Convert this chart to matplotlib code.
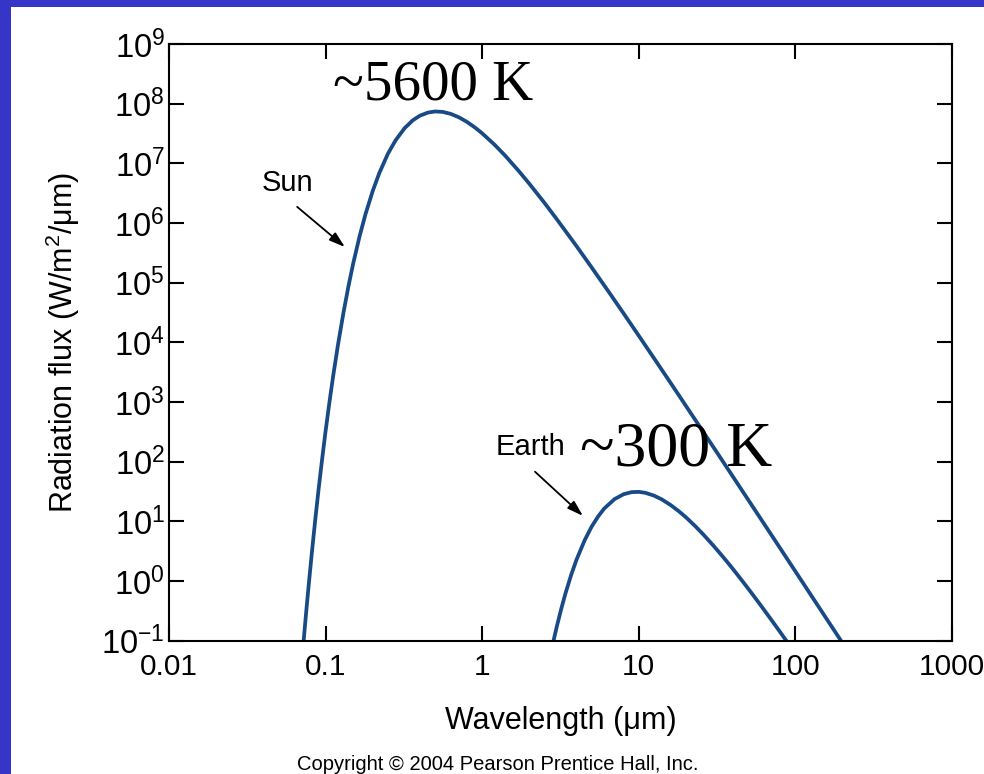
import numpy as np
import matplotlib
matplotlib.use('Agg')
from matplotlib import pyplot as plt
from matplotlib.patches import Rectangle

# values (wavelength in um, flux in W/m2/um)
sun_wl = [0.072, 0.075, 0.078, 0.082, 0.086, 0.09, 0.095, 0.10, 0.106, 0.112,
          0.12, 0.13, 0.14, 0.15, 0.165, 0.18, 0.2, 0.22, 0.25, 0.28,
          0.32, 0.36, 0.4, 0.45, 0.5, 0.56, 0.63, 0.71, 0.8, 0.9,
          1.0, 1.2, 1.4, 1.7, 2.0, 2.5, 3.0, 4.0, 5.0, 6.5,
          8.0, 10, 13, 16, 20, 25, 32, 40, 50, 65,
          80, 100, 130, 160, 200]
sun_flux = [0.0845, 0.283, 0.859, 3.29, 11.0, 32.7, 110, 327, 1030, 2830,
            9140, 3.13e4, 8.77e4, 2.09e5, 6.07e5, 1.42e6, 3.45e6, 6.82e6, 1.45e7, 2.44e7,
            3.90e7, 5.25e7, 6.29e7, 7.09e7, 7.40e7, 7.28e7, 6.74e7, 5.91e7, 4.94e7, 3.98e7,
            3.18e7, 2.05e7, 1.35e7, 7.59e6, 4.55e6, 2.17e6, 1.15e6, 4.11e5, 1.80e5, 6.72e4,
            3.05e4, 1.29e4, 4660, 2070, 861, 357, 135, 55.6, 22.9, 8.07,
            3.53, 1.45, 0.509, 0.222, 0.0913]

earth_wl = [2.7, 2.8, 2.9, 3.0, 3.2, 3.4, 3.7, 4.0, 4.5, 5, 5.5, 6, 7, 8, 9, 10, 11,
            12.5, 14, 16, 18, 20, 23, 26, 30, 35, 40, 46, 53, 60, 70, 80, 90]
earth_flux = [0.0504, 0.0791, 0.120, 0.176, 0.345, 0.616, 1.27, 2.27, 4.76, 8.17,
              12.1, 16.3, 23.6, 28.5, 30.9, 31.2, 30.1, 27.0, 23.4, 18.7, 14.8, 11.7,
              8.25, 5.91, 3.90, 2.43, 1.58, 0.989, 0.608, 0.393, 0.226, 0.139, 0.0900]

xticks = [0.01, 0.1, 1, 10, 100, 1000]
xtick_labels = ['0.01', '0.1', '1', '10', '100', '1000']
yticks = [1e-1, 1e0, 1e1, 1e2, 1e3, 1e4, 1e5, 1e6, 1e7, 1e8, 1e9]
ytick_labels = [r'$10^{-1}$', r'$10^{0}$', r'$10^{1}$', r'$10^{2}$', r'$10^{3}$',
                r'$10^{4}$', r'$10^{5}$', r'$10^{6}$', r'$10^{7}$', r'$10^{8}$', r'$10^{9}$']

plt.rcParams['font.family'] = ['Liberation Sans', 'DejaVu Sans']
plt.rcParams['mathtext.fontset'] = 'custom'
plt.rcParams['mathtext.rm'] = 'Liberation Sans'
plt.rcParams['mathtext.it'] = 'Liberation Sans'

curve_color = '#184a86'
border_color = '#3535c8'

fig = plt.figure(figsize=(9.84, 7.74), dpi=100, facecolor=border_color)
# white page inside the blue frame
fig.patches.append(Rectangle((11 / 984, 0), 1, (774 - 7) / 774, transform=fig.transFigure,
                             facecolor='white', edgecolor='none', zorder=-5))

ax = fig.add_axes([169 / 984, (774 - 640.7) / 774, 783 / 984, 596.7 / 774])
ax.set_zorder(2)
ax.patch.set_alpha(0)
ax.set_xscale('log')
ax.set_yscale('log')
ax.plot(sun_wl, sun_flux, color=curve_color, lw=2.7, solid_capstyle='butt')
ax.plot(earth_wl, earth_flux, color=curve_color, lw=2.7, solid_capstyle='butt')
ax.set_xlim(0.01, 1000)
ax.set_ylim(0.1, 1e9)

ax.set_xticks(xticks)
ax.set_xticklabels(xtick_labels)
ax.set_yticks(yticks)
ax.set_yticklabels(ytick_labels)
ax.minorticks_off()
ax.tick_params(which='major', direction='in', length=11, width=1.5,
               top=True, right=True)
ax.tick_params(axis='x', labelsize=21.5, pad=8.5)
ax.tick_params(axis='y', labelsize=23.5, pad=3)
for s in ax.spines.values():
    s.set_linewidth(1.5)

ax.set_xlabel('Wavelength (\u03bcm)', fontsize=22, labelpad=18)
ax.set_ylabel('Radiation flux (W/m$^2$/\u03bcm)', fontsize=22, labelpad=14)

# labels with arrows
ax.text(0.0575, 4.7e6, 'Sun', fontsize=21, ha='center', va='center')
ax.annotate('', xy=(0.137, 3.7e5), xytext=(0.0638, 2.0e6),
            arrowprops=dict(arrowstyle='-|>,head_length=0.95,head_width=0.3',
                            lw=1.3, color='black', mutation_scale=10))
ax.text(2.02, 178, 'Earth', fontsize=21, ha='center', va='center')
ax.annotate('', xy=(4.53, 11.5), xytext=(2.11, 73),
            arrowprops=dict(arrowstyle='-|>,head_length=0.95,head_width=0.3',
                            lw=1.3, color='black', mutation_scale=10))

# big temperature labels
fig.text(333 / 984, (774 - 100) / 774, '~5600 K', fontsize=41, family='Liberation Serif',
         ha='left', va='baseline', zorder=3)
fig.text(580 / 984, (774 - 465) / 774, '~300 K', fontsize=46, family='Liberation Serif',
         ha='left', va='baseline', zorder=3)

fig.text(498 / 984, (774 - 765) / 774, 'Copyright \u00a9 2004 Pearson Prentice Hall, Inc.',
         fontsize=14.5, ha='center', va='center')

fig.savefig('out.png', dpi=100, facecolor=border_color)
